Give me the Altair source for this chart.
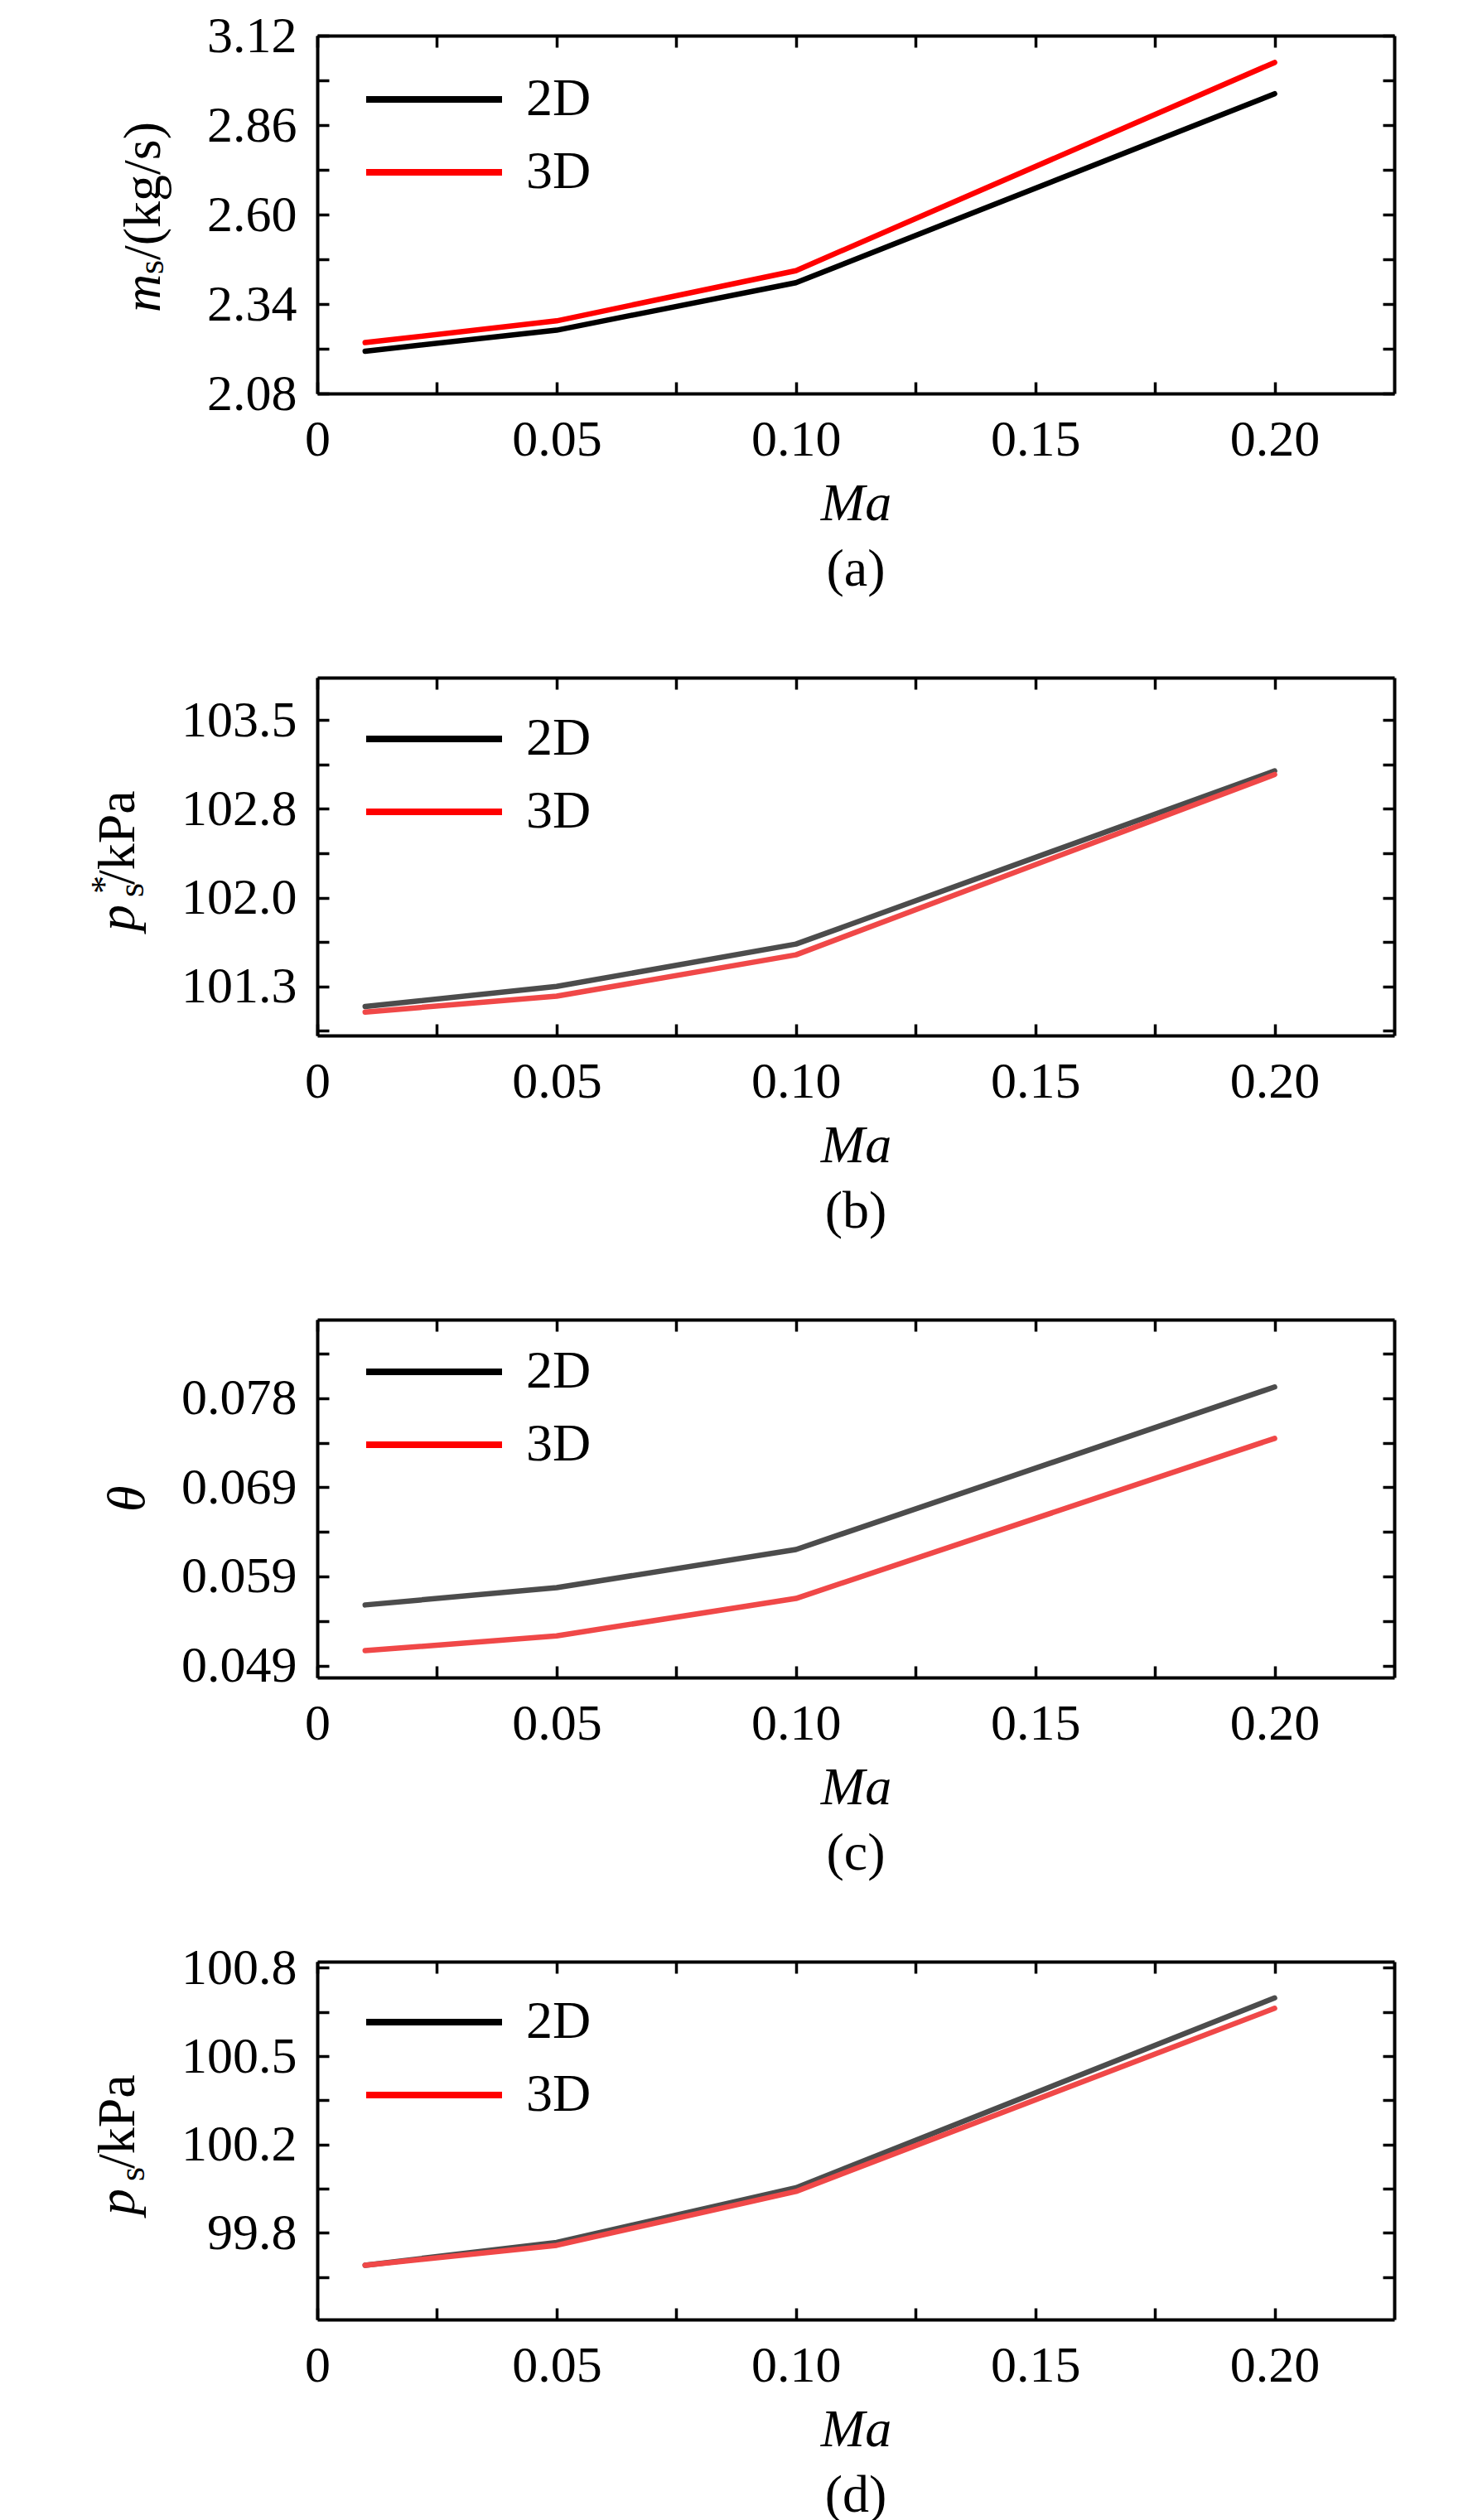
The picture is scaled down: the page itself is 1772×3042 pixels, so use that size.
import altair as alt
import pandas as pd

FONT = "Liberation Serif"

# ---------------- data ----------------
MA = [0.01, 0.05, 0.10, 0.20]
SERIES = ["2D", "3D"]

MS_2D = [2.203, 2.264, 2.402, 2.951]
MS_3D = [2.228, 2.291, 2.437, 3.042]

PSTAR_2D = [101.135, 101.30, 101.65, 103.08]
PSTAR_3D = [101.089, 101.22, 101.561, 103.05]

THETA_2D = [0.05587, 0.05774, 0.06188, 0.0795]
THETA_3D = [0.05091, 0.05252, 0.05657, 0.07393]

PS_2D = [99.708, 99.794, 100.000, 100.716]
PS_3D = [99.708, 99.783, 99.986, 100.677]

# ---------------- ticks ----------------
X_MAJOR = [0, 0.05, 0.10, 0.15, 0.20]
X_TICKS = [0, 0.025, 0.05, 0.075, 0.10, 0.125, 0.15, 0.175, 0.20]
X_DOMAIN = [0, 0.225]

A_MAJOR = [2.08, 2.34, 2.60, 2.86, 3.12]
A_MINOR = [2.21, 2.47, 2.73, 2.99]
A_DOMAIN = [2.08, 3.12]

B_MAJOR = [101.3, 102.0333, 102.7667, 103.5]
B_MINOR = [100.9333, 101.6667, 102.4, 103.1333]
B_DOMAIN = [100.895, 103.85]

C_MAJOR = [0.0493, 0.05896, 0.06862, 0.07828]
C_MINOR = [0.05413, 0.06379, 0.07345, 0.08311]
C_DOMAIN = [0.0480, 0.0868]

D_MAJOR = [99.83, 100.1633, 100.4967, 100.83]
D_MINOR = [99.6633, 99.9967, 100.33, 100.6633]
D_DOMAIN = [99.503, 100.853]

# ---------------- layout / style ----------------
W, H = 1300, 432
LW = 6.5
TICK = 14
FRAME = 4
LABEL_SIZE = 62
TITLE_SIZE = 64
SUB_SIZE = 44

# y-axis title pieces: (text, size, style, x, y)  [pixel offsets from plot origin]
TITLE_A = [("m", TITLE_SIZE, "italic", -190, 334),
           ("s", SUB_SIZE, "normal", -186, 288),
           ("/(kg/s)", TITLE_SIZE, "normal", -190, 271)]
TITLE_B = [("p", TITLE_SIZE, "italic", -221, 306),
           ("*", SUB_SIZE, "normal", -243, 261),
           ("s", SUB_SIZE, "normal", -210, 265),
           ("/kPa", TITLE_SIZE, "normal", -221, 250)]
TITLE_C = [("θ", TITLE_SIZE, "italic", -209, 232)]
TITLE_D = [("p", TITLE_SIZE, "italic", -221, 306),
           ("s", SUB_SIZE, "normal", -209, 265),
           ("/kPa", TITLE_SIZE, "normal", -221, 250)]


def panel(y2d, y3d, ymajor, yminor, ydomain, yfmt, op2d, c3d, pieces, legend_top, tag):
    df = pd.DataFrame({
        "Ma": MA + MA,
        "v": y2d + y3d,
        "series": ["2D"] * len(MA) + ["3D"] * len(MA),
    })
    base = alt.Chart(df)
    xs = alt.Scale(domain=X_DOMAIN, nice=False, zero=False)
    ys = alt.Scale(domain=ydomain, nice=False, zero=False)
    yticks = sorted(ymajor + yminor)

    common_lbl = dict(labelFont=FONT, labelFontSize=LABEL_SIZE, labelColor="black",
                      grid=False, labelOverlap=False, labelFlush=False)

    x_lab = alt.Axis(orient="bottom", values=X_MAJOR,
                     labelExpr="datum.value == 0 ? '0' : format(datum.value, '.2f')",
                     ticks=False, tickSize=0, domain=True, domainColor="black",
                     domainWidth=FRAME, labelPadding=25, title="Ma", titleFont=FONT,
                     titleFontSize=TITLE_SIZE, titleFontStyle="italic",
                     titleFontWeight="normal", titleColor="black", titlePadding=15,
                     **common_lbl)
    y_lab = alt.Axis(orient="left", values=ymajor, format=yfmt, ticks=False, tickSize=0,
                     domain=True, domainColor="black", domainWidth=FRAME,
                     labelPadding=25, title=None, **common_lbl)

    tick_kw = dict(labels=False, title=None, grid=False, ticks=True, tickSize=TICK,
                   tickWidth=3.5, tickColor="black")
    x_in_bottom = alt.Axis(orient="top", offset=-H, values=X_TICKS, domain=False, **tick_kw)
    y_in_left = alt.Axis(orient="right", offset=-W, values=yticks, domain=False, **tick_kw)
    x_in_top = alt.Axis(orient="bottom", offset=-H, values=X_TICKS, domain=True,
                        domainColor="black", domainWidth=FRAME, **tick_kw)
    y_in_right = alt.Axis(orient="left", offset=-W, values=yticks, domain=True,
                          domainColor="black", domainWidth=FRAME, **tick_kw)

    legend = alt.Legend(orient="none", legendX=55, legendY=legend_top - 31, title=None,
                        symbolType="stroke", symbolSize=164 ** 2, symbolStrokeWidth=8,
                        symbolOpacity=1, labelFont=FONT, labelFontSize=TITLE_SIZE,
                        labelColor="black", labelOffset=25, clipHeight=60, rowPadding=24,
                        padding=0, labelLimit=0)

    line_kw = dict(strokeWidth=LW, strokeCap="round", strokeJoin="round")

    l2d = base.transform_filter(alt.datum.series == "2D").mark_line(opacity=op2d, **line_kw).encode(
        x=alt.X("Ma:Q", scale=xs, axis=x_lab),
        y=alt.Y("v:Q", scale=ys, axis=y_lab),
        color=alt.Color("series:N", scale=alt.Scale(domain=SERIES, range=["#000000", "#ff0000"]),
                        legend=legend),
    )
    l3d = base.transform_filter(alt.datum.series == "3D").mark_line(color=c3d, **line_kw).encode(
        x=alt.X("Ma:Q", scale=xs, axis=x_in_bottom),
        y=alt.Y("v:Q", scale=ys, axis=y_in_left),
    )
    lframe = base.transform_filter(alt.datum.series == "2D").mark_line(opacity=0, **line_kw).encode(
        x=alt.X("Ma:Q", scale=xs, axis=x_in_top),
        y=alt.Y("v:Q", scale=ys, axis=y_in_right),
    )

    texts = []
    for text, size, style, px, py in pieces:
        texts.append(
            alt.Chart(alt.Data(values=[{"k": 0}])).mark_text(
                text=text, font=FONT, fontSize=size, fontStyle=style, angle=270,
                align="left", baseline="alphabetic", color="black"
            ).encode(x=alt.value(px), y=alt.value(py))
        )

    return alt.layer(l2d, l3d, lframe, *texts).resolve_axis(
        x="independent", y="independent"
    ).properties(
        width=W, height=H,
        title=alt.TitleParams(tag, orient="bottom", frame="group", anchor="middle",
                              font=FONT, fontSize=TITLE_SIZE, fontWeight="normal",
                              color="black", offset=16),
    )


pa = panel(MS_2D, MS_3D, A_MAJOR, A_MINOR, A_DOMAIN, ".2f", 1.0, "#ff0000", TITLE_A, 78, "(a)")
pb = panel(PSTAR_2D, PSTAR_3D, B_MAJOR, B_MINOR, B_DOMAIN, ".1f", 0.7, "#f04848", TITLE_B, 75, "(b)")
pc = panel(THETA_2D, THETA_3D, C_MAJOR, C_MINOR, C_DOMAIN, ".3f", 0.7, "#f04848", TITLE_C, 64, "(c)")
pd_ = panel(PS_2D, PS_3D, D_MAJOR, D_MINOR, D_DOMAIN, ".1f", 0.7, "#f04848", TITLE_D, 74, "(d)")

chart = alt.vconcat(pa, pb, pc, pd_, spacing=343, bounds="flush").resolve_scale(
    color="independent"
).resolve_legend(color="independent").properties(
    padding={"left": 96, "top": 3, "right": 10, "bottom": 0}
).configure_view(stroke=None).configure(background="white")

chart.save("out.html", embed_options={"renderer": "svg", "actions": False})
